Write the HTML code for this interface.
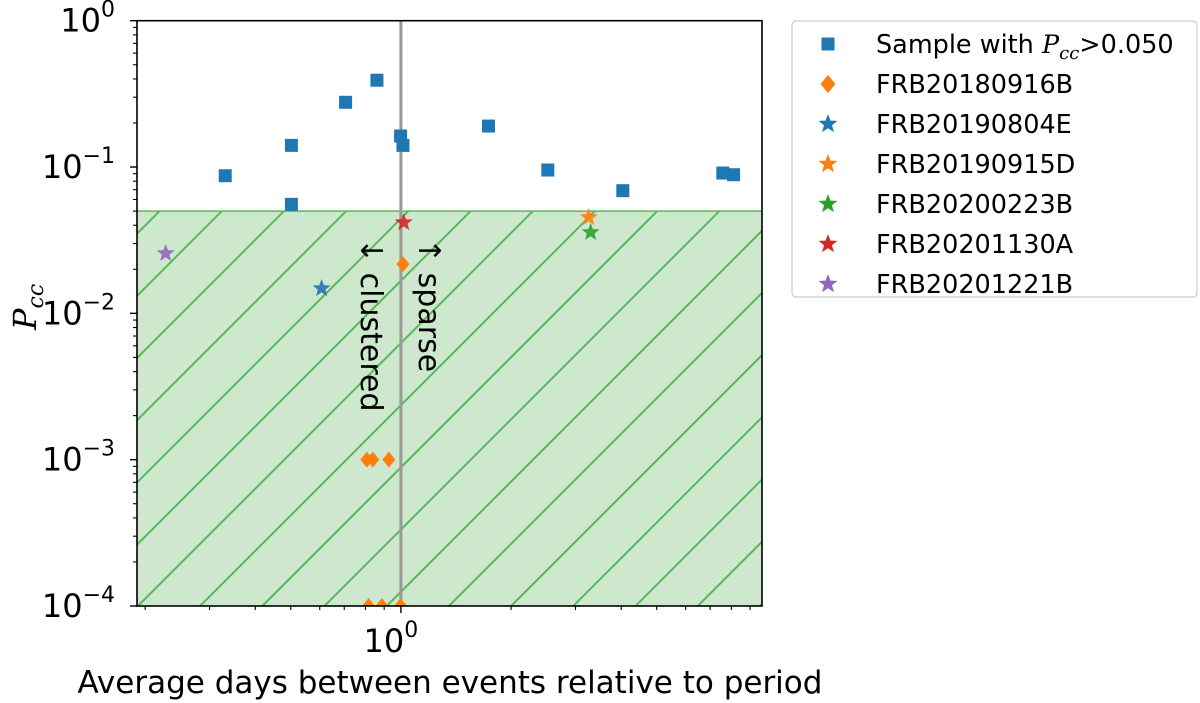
<!DOCTYPE html>
<html><head><meta charset="utf-8"><style>
html,body{margin:0;padding:0;background:#fff;}
svg{display:block;font-family:"DejaVu Sans","Liberation Sans",sans-serif;}
</style></head><body>
<svg id="chart" width="1200" height="703" viewBox="0 0 1200 703">
<defs><clipPath id="pc"><rect x="137" y="20.7" width="625" height="585.3"/></clipPath></defs>
<g id="plot" clip-path="url(#pc)"></g>
<g id="axes"></g>
</svg>
<script>
const sampleX=[0.331,0.502,0.502,0.706,0.86,0.998,1.013,1.735,2.52,4.04,7.58,8.11];
const sampleY=[0.0872,0.1406,0.0556,0.277,0.392,0.163,0.1406,0.1905,0.0954,0.0689,0.091,0.0886];
const diamondX=[1.013,0.807,0.838,0.927,0.816,0.887,0.998];
const diamondY=[0.0217,0.001,0.001,0.001,0.0001,0.0001,0.0001];
const starNames=["FRB20190804E","FRB20190915D","FRB20200223B","FRB20201130A","FRB20201221B"];
const starX=[0.607,3.26,3.30,1.018,0.2275];
const starY=[0.0148,0.0453,0.0358,0.0418,0.0257];
const threshold=0.05;
const yTicks=[0,-1,-2,-3,-4];

const NS="http://www.w3.org/2000/svg";
const X0=137,X1=762,Y0=20.7,Y1=606;
const xmin=Math.log10(0.19),xmax=Math.log10(9.7);
const ymin=-4,ymax=0;
function xs(v){return X0+(Math.log10(v)-xmin)/(xmax-xmin)*(X1-X0);}
function ys(v){return Y1-(Math.log10(v)-ymin)/(ymax-ymin)*(Y1-Y0);}
function mk(tag,attrs,parent){const e=document.createElementNS(NS,tag);for(const k in attrs)e.setAttribute(k,attrs[k]);parent.appendChild(e);return e;}
const plot=document.getElementById('plot'),axes=document.getElementById('axes');
const colors={"FRB20190804E":"#1f77b4","FRB20190915D":"#ff7f0e","FRB20200223B":"#2ca02c","FRB20201130A":"#d62728","FRB20201221B":"#9467bd"};
function starPath(cx,cy,r){let d="";for(let i=0;i<10;i++){const a=-Math.PI/2+i*Math.PI/5;const rr=i%2?r*0.42:r;d+=(i?"L":"M")+(cx+rr*Math.cos(a)).toFixed(2)+","+(cy+rr*Math.sin(a)).toFixed(2);}return d+"Z";}

const ty=ys(threshold);
const reg=mk('rect',{x:X0,y:ty,width:X1-X0,height:Y1-ty,fill:'#cde8cd'},plot);


const hatch=mk('g',{stroke:'#5db55d','stroke-width':2},plot);


const c0=370.7,sp=62.2;
for(let c=c0-sp*12;c<1500;c+=sp){mk('line',{x1:c-ty,y1:ty,x2:c-Y1,y2:Y1},hatch);}
const tl=mk('line',{x1:X0,y1:ty,x2:X1,y2:ty,stroke:'#5db55d','stroke-width':1.5},plot);



const vl=mk('line',{x1:xs(1),y1:Y0,x2:xs(1),y2:Y1,stroke:'#999','stroke-width':3},plot);



sampleX.forEach((v,i)=>{const s=mk('rect',{x:xs(v)-6.5,y:ys(sampleY[i])-6.5,width:13,height:13,fill:'#1f77b4'},plot);

});
diamondX.forEach((v,i)=>{const cx=xs(v),cy=ys(diamondY[i]);const d=mk('path',{d:`M${cx},${cy-8}L${cx+6.5},${cy}L${cx},${cy+8}L${cx-6.5},${cy}Z`,fill:'#ff7f0e'},plot);

});
starX.forEach((v,i)=>{const s=mk('path',{d:starPath(xs(v),ys(starY[i]),9.5),fill:colors[starNames[i]],'fill-opacity':0.9},plot);

});

const t1=mk('text',{x:0,y:0,'font-size':30,transform:`translate(${xs(1)-40},238) rotate(90)`,fill:'#000'},axes);
t1.textContent='↓ clustered';


const t2=mk('text',{x:0,y:0,'font-size':30,transform:`translate(${xs(1)+18},238) rotate(90)`,fill:'#000'},axes);
t2.textContent='↑ sparse';



const fr=mk('rect',{x:X0,y:Y0,width:X1-X0,height:Y1-Y0,fill:'none',stroke:'#000','stroke-width':1.6},axes);


yTicks.forEach(e=>{const y=ys(Math.pow(10,e));mk('line',{x1:X0-7,y1:y,x2:X0,y2:y,stroke:'#000','stroke-width':1.4},axes);
const t=mk('text',{x:X0-22,y:y+11,'font-size':32,'text-anchor':'end'},axes);
t.innerHTML='10<tspan dy="-15" font-size="22">'+(e<0?'−'+(-e):e)+'</tspan>';


if(e>ymin){for(let m=2;m<10;m++){const yy=ys(m*Math.pow(10,e-1));mk('line',{x1:X0-4,y1:yy,x2:X0,y2:yy,stroke:'#000','stroke-width':1.1},axes);}}});
for(let e=-1;e<=0;e++)for(let m=1;m<10;m++){const v=m*Math.pow(10,e);if(v<0.19||v>9.7||v===1)continue;const x=xs(v);mk('line',{x1:x,y1:Y1,x2:x,y2:Y1+4,stroke:'#000','stroke-width':1.1},axes);}
mk('line',{x1:xs(1),y1:Y1,x2:xs(1),y2:Y1+7,stroke:'#000','stroke-width':1.4},axes);
const xt=mk('text',{x:xs(1)-10,y:652,'font-size':32,'text-anchor':'middle'},axes);
xt.innerHTML='10<tspan dy="-15" font-size="22">0</tspan>';


const xl=mk('text',{x:450,y:693,'font-size':31,'text-anchor':'middle'},axes);
xl.textContent='Average days between events relative to period';


const yl=mk('text',{x:0,y:0,'font-size':32,'font-style':'italic','font-family':'"DejaVu Serif","Liberation Serif",serif',transform:'translate(36,330) rotate(-90)'},axes);
yl.innerHTML='P<tspan dy="7" font-size="22">cc</tspan>';



const lg=mk('g',{},axes);


mk('rect',{x:792,y:21,width:405,height:276,rx:4,fill:'#fff',stroke:'#ccc','stroke-width':1.2},lg);
const entries=[{n:'Sample with',k:'sq',c:'#1f77b4'},{n:'FRB20180916B',k:'di',c:'#ff7f0e'}].concat(starNames.map(n=>({n:n,k:'st',c:colors[n]})));
entries.forEach((en,i)=>{const cy=44+i*40,cx=828;
if(en.k==='sq')mk('rect',{x:cx-6.5,y:cy-6.5,width:13,height:13,fill:en.c},lg);
else if(en.k==='di')mk('path',{d:`M${cx},${cy-9}L${cx+7.5},${cy}L${cx},${cy+9}L${cx-7.5},${cy}Z`,fill:en.c},lg);
else mk('path',{d:starPath(cx,cy,10),fill:en.c},lg);
const t=mk('text',{x:876,y:cy+9,'font-size':25.5},lg);
if(i===0)t.innerHTML='Sample with <tspan font-family="DejaVu Serif,serif" font-style="italic">P</tspan><tspan font-family="DejaVu Serif,serif" font-style="italic" font-size="18" dy="6">cc</tspan><tspan dy="-6">&gt;0.050</tspan>';
else t.textContent=en.n;

});
</script>
</body></html>
